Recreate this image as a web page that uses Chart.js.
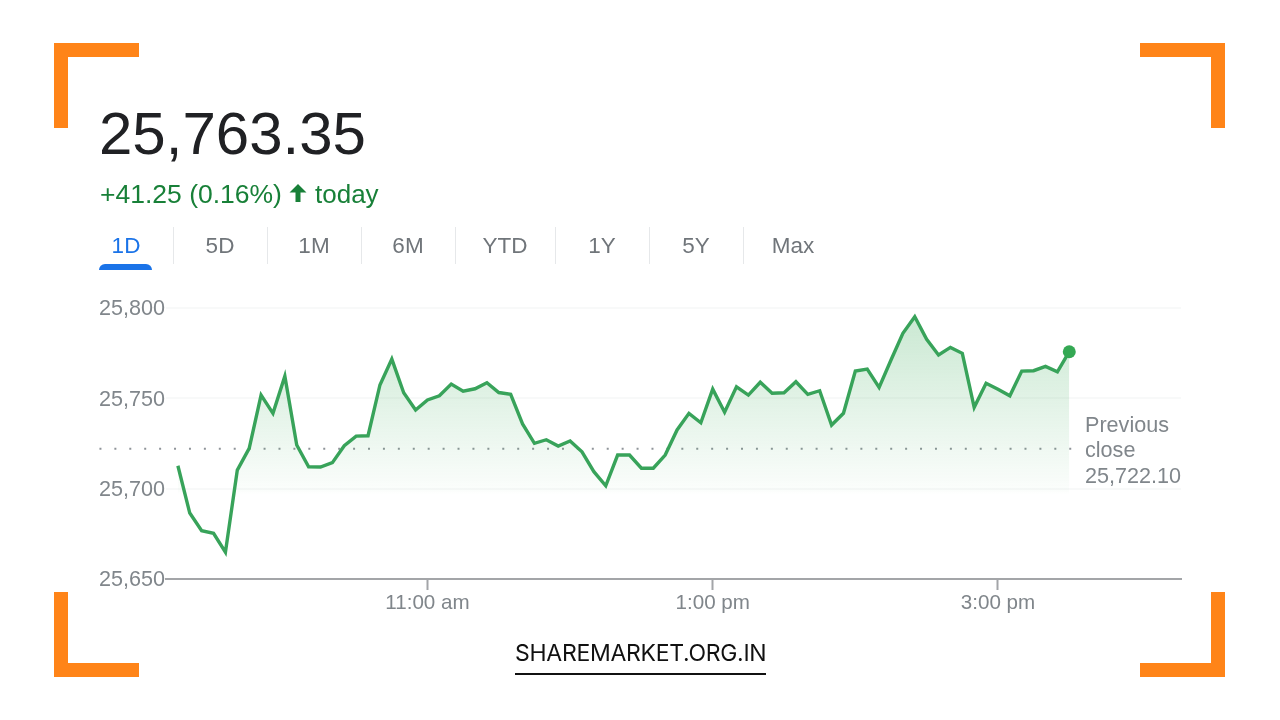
<!DOCTYPE html>
<html>
<head>
<meta charset="utf-8">
<title>25,763.35</title>
<script src="https://cdn.jsdelivr.net/npm/chart.js@4/dist/chart.umd.min.js"></script>
<style>
  html, body { margin: 0; padding: 0; background: #fff; }
  #page { position: relative; width: 1280px; height: 720px; overflow: hidden; font-family: 'Liberation Sans', Arial, sans-serif; }
  #chart { position: absolute; left: 0; top: 0; }
  .abs { position: absolute; white-space: nowrap; }
  .corner { position: absolute; background: #ff8418; }
  #price { left: 99px; top: 100px; font-size: 60px; line-height: 68px; color: #202124; }
  #change { left: 100px; top: 178px; font-size: 26.5px; line-height: 32px; color: #188038; }
  #arrow { position: absolute; left: 189px; top: 5px; }
  #change .today { position: absolute; left: 215px; top: 0; font-size: 26px; }
  .tab { position: absolute; top: 232.5px; font-size: 22.5px; line-height: 26px; color: #70757a; transform: translateX(-50%); }
  .tab.on { color: #1a73e8; }
  .sep { position: absolute; top: 227px; width: 1px; height: 37px; background: #e6e8ea; }
  #tabbar { position: absolute; left: 99px; top: 263.5px; width: 53px; height: 6.5px; background: #1a73e8; border-radius: 6px 6px 0 0; }
  #prev { left: 1085px; top: 412px; font-size: 21.6px; line-height: 25.3px; color: #80868b; }
  #brand { left: 515px; top: 638px; font-family: Inter, sans-serif; font-size: 23px; letter-spacing: -0.28px; line-height: 30px; color: #111; }
  #brandline { position: absolute; left: 515px; top: 673px; width: 251px; height: 2px; background: #111; }
</style>
</head>
<body>
<div id="page">
  <canvas id="chart" width="1280" height="720"></canvas>

  <div class="corner" style="left:54px;top:43px;width:85px;height:14px"></div>
  <div class="corner" style="left:54px;top:43px;width:14px;height:85px"></div>
  <div class="corner" style="left:1140px;top:43px;width:85px;height:14px"></div>
  <div class="corner" style="left:1211px;top:43px;width:14px;height:85px"></div>
  <div class="corner" style="left:54px;top:663px;width:85px;height:14px"></div>
  <div class="corner" style="left:54px;top:592px;width:14px;height:85px"></div>
  <div class="corner" style="left:1140px;top:663px;width:85px;height:14px"></div>
  <div class="corner" style="left:1211px;top:592px;width:14px;height:85px"></div>

  <div class="abs" id="price">25,763.35</div>
  <div class="abs" id="change">+41.25 (0.16%)
    <svg id="arrow" width="18" height="20" viewBox="0 0 18 20"><path d="M9 1 L17.5 9.5 L11.5 9.5 L11.5 19 L6.5 19 L6.5 9.5 L0.5 9.5 Z" fill="#188038"/></svg>
    <span class="today">today</span>
  </div>

  <div id="tabs"></div>
  <div id="tabbar"></div>

  <div class="abs" id="prev">Previous<br>close<br>25,722.10</div>

  <div class="abs" id="brand">SHAREMARKET.ORG.IN</div>
  <div id="brandline"></div>
</div>

<script>
  /* ── Data ──────────────────────────────────────────────── */
  // minutes since midnight, 9:15 to 15:30
  const minutes = [
    555, 560, 565, 570, 575, 580, 585, 590, 595, 600, 605, 610, 615, 620, 625, 630,
    635, 640, 645, 650, 655, 660, 665, 670, 675, 680, 685, 690, 695, 700, 705, 710,
    715, 720, 725, 730, 735, 740, 745, 750, 755, 760, 765, 770, 775, 780, 785, 790,
    795, 800, 805, 810, 815, 820, 825, 830, 835, 840, 845, 850, 855, 860, 865, 870,
    875, 880, 885, 890, 895, 900, 905, 910, 915, 920, 925, 930
  ];
  const prices = [
    25712.7, 25686.5, 25676.7, 25675.3, 25664.8, 25710.3, 25722.3, 25751.8,
    25741.7, 25762.3, 25724.2, 25712.1, 25712.0, 25714.4, 25723.8, 25729.1,
    25729.3, 25757.4, 25771.7, 25753.1, 25743.5, 25749.1, 25751.4, 25757.9,
    25753.9, 25755.3, 25758.6, 25753.2, 25752.2, 25735.8, 25725.1, 25727.1,
    25723.6, 25726.4, 25720.4, 25709.4, 25701.6, 25718.6, 25718.6, 25711.3,
    25711.3, 25718.6, 25732.5, 25741.7, 25736.5, 25755.1, 25742.3, 25756.4,
    25751.8, 25758.9, 25752.8, 25753.1, 25759.2, 25752.2, 25754.2, 25735.2,
    25741.7, 25765.1, 25766.2, 25756.1, 25771.2, 25786.0, 25795.2, 25782.7,
    25774.0, 25778.2, 25774.9, 25745.0, 25758.3, 25755.0, 25751.4, 25765.1,
    25765.3, 25767.7, 25764.7, 25775.8
  ];
  const previousClose = 25722.10;
  const yTicks = [25650, 25700, 25750, 25800];
  const yTickLabels = ['25,650', '25,700', '25,750', '25,800'];
  const xTicks = [660, 780, 900];
  const xTickLabels = ['11:00 am', '1:00 pm', '3:00 pm'];
  const tabNames = ['1D', '5D', '1M', '6M', 'YTD', '1Y', '5Y', 'Max'];
  const tabCenters = [126, 220, 314, 408, 505, 602, 696, 793];
  const tabSeps = [173, 267, 361, 455, 555, 649, 743];

  /* ── Range tabs ────────────────────────────────────────── */
  const tabs = document.getElementById('tabs');
  tabs.innerHTML = tabNames.map((t, i) =>
    `<div class="tab ${i === 0 ? 'on' : ''}" style="left:${tabCenters[i]}px">${t}</div>`).join('') +
    tabSeps.map(x => `<div class="sep" style="left:${x}px"></div>`).join('');

  /* ── Chart ─────────────────────────────────────────────── */
  Chart.defaults.font.family = "'Liberation Sans', Arial, sans-serif";

  function areaFill(c) {
    const { chart } = c;
    if (!chart.chartArea) return 'rgba(52,168,83,.1)';
    const y = chart.scales.y;
    const g = chart.ctx.createLinearGradient(0, y.getPixelForValue(25795), 0, y.getPixelForValue(25697));
    g.addColorStop(0, 'rgba(52,168,83,.26)');
    g.addColorStop(0.98, 'rgba(52,168,83,.02)');
    g.addColorStop(1, 'rgba(52,168,83,0)');
    return g;
  }

  new Chart(document.getElementById('chart'), {
    type: 'line',
    data: {
      datasets: [
        {
          // previous close dotted line, runs out under the y labels
          data: [{ x: 522, y: previousClose }, { x: 932, y: previousClose }],
          borderColor: '#8f9499',
          borderWidth: 2,
          borderDash: [2, 12.92],
          pointRadius: 0,
          fill: false,
          clip: false,
          order: 2
        },
        {
          data: prices.map((p, i) => ({ x: minutes[i], y: p })),
          borderColor: '#38a35a',
          borderWidth: 3.4,
          backgroundColor: areaFill,
          fill: 'start',
          tension: 0,
          pointRadius: c => (c.dataIndex === prices.length - 1 ? 6.5 : 0),
          pointBackgroundColor: '#34a853',
          pointBorderWidth: 0,
          clip: false,
          order: 1
        }
      ]
    },
    options: {
      responsive: false,
      animation: false,
      events: [],
      layout: { padding: { left: 99, right: 99, top: 308, bottom: 0 } },
      plugins: { legend: { display: false }, tooltip: { enabled: false } },
      scales: {
        x: {
          type: 'linear',
          min: 550,
          max: 977,
          afterBuildTicks: s => { s.ticks = xTicks.map(v => ({ value: v })); },
          afterFit: s => { s.height = 141; },
          border: { color: '#a3a5a8', width: 2 },
          grid: { drawOnChartArea: false, tickLength: 11, tickColor: '#a3a5a8', tickWidth: 2 },
          ticks: {
            color: '#80868b',
            font: { size: 20.6 },
            padding: 1,
            maxRotation: 0,
            callback: v => xTickLabels[xTicks.indexOf(v)]
          }
        },
        y: {
          min: 25650,
          max: 25800,
          afterBuildTicks: s => { s.ticks = yTicks.map(v => ({ value: v })); },
          afterFit: s => { s.width = 67; },
          border: { display: false },
          grid: { color: '#f8f9f9', lineWidth: 2, drawTicks: false },
          ticks: {
            color: '#80868b',
            font: { size: 21.6 },
            padding: 0,
            crossAlign: 'far',
            labelOffset: 1.5,
            callback: v => yTickLabels[yTicks.indexOf(v)]
          }
        }
      }
    }
  });
</script>
</body>
</html>
